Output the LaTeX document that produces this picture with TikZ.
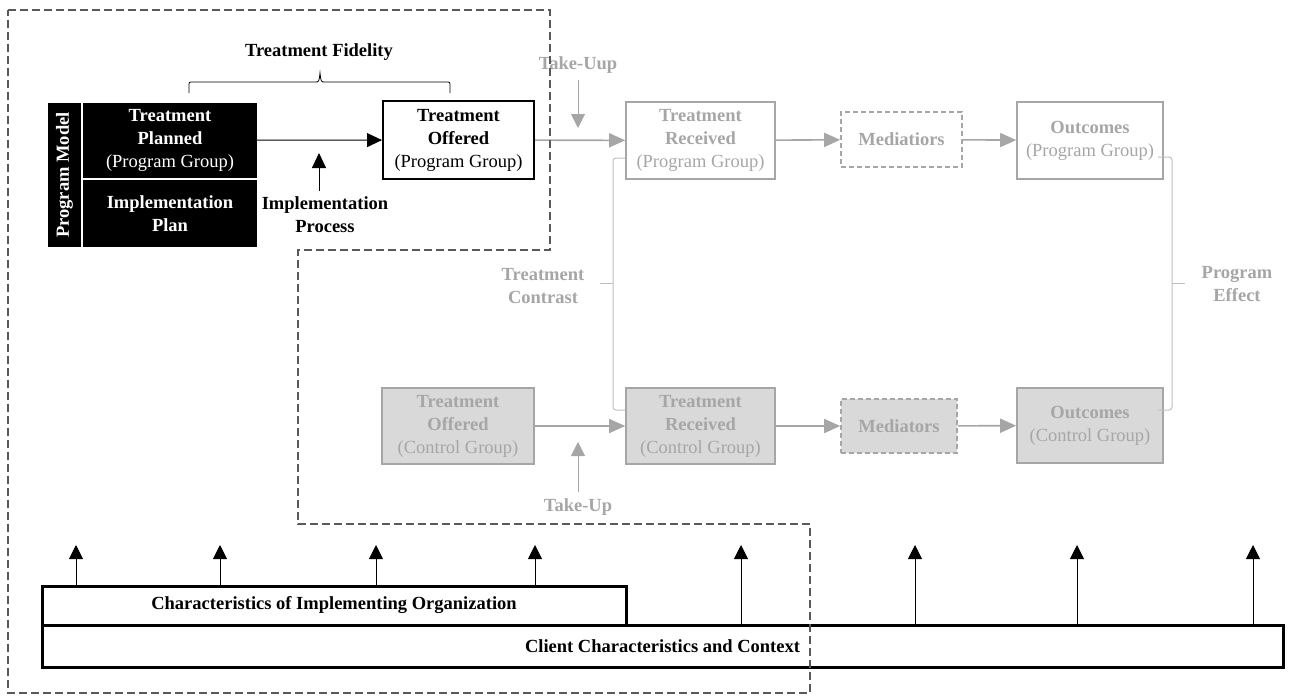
\documentclass[tikz,border=0pt]{standalone}
\usepackage{fontspec}
\setmainfont{Liberation Serif}
\usepackage{tikz}
\usetikzlibrary{arrows.meta,calc}
\definecolor{faded}{HTML}{A6A6A6}
\definecolor{ctrlfill}{HTML}{D9D9D9}
\definecolor{bracketgray}{HTML}{BFBFBF}
\tikzset{every picture/.append style={x=1pt,y=-1pt}}
\tikzset{model/.style={fill=black,text=white,inner sep=0pt,align=center}}
\tikzset{offer/.style={draw=black,line width=2pt,inner sep=0pt,align=center,minimum width=151pt,minimum height=78pt}}
\tikzset{fadedbox/.style={draw=faded,line width=1.6pt,text=faded,inner sep=0pt,align=center,minimum width=149pt,minimum height=77pt}}
\tikzset{ctrlbox/.style={fadedbox,fill=ctrlfill}}
\tikzset{medbox/.style={fadedbox,dash pattern=on 5pt off 3pt,minimum width=121pt,minimum height=55pt,font=\bfseries}}
\tikzset{flow/.style={-{Triangle[length=16pt,width=14pt]},line width=1.6pt,draw=faded,fill=faded}}
\tikzset{takeup/.style={-{Triangle[length=14pt,width=14pt]},line width=1pt,draw=faded,fill=faded}}
\tikzset{impl/.style={-{Triangle[length=15pt,width=14pt]},line width=0.9pt}}
\tikzset{up/.style={-{Triangle[length=14pt,width=14pt]},line width=0.9pt}}
\tikzset{lbl/.style={align=center,font=\bfseries}}
\tikzset{fadedlbl/.style={lbl,text=faded}}
\tikzset{bracket/.style={draw=bracketgray,line width=1pt}}
\tikzset{context/.style={draw,line width=3pt,inner sep=0pt,font=\bfseries}}
\tikzset{outline/.style={draw=black!65,line width=1.2pt,dash pattern=on 8pt off 4pt}}

\begin{document}
\fontsize{18.5}{23}\selectfont
\begin{tikzpicture}
\useasboundingbox (0,0) rectangle (1289,696);

% program model
\node (pm) at (64.5,175)[model,rotate=90,minimum width=144pt,minimum height=33pt,font=\bfseries]{Program Model};
\node (planned) at (170,140.25)[model,minimum width=174pt,minimum height=74.5pt]{\textbf{Treatment}\\\textbf{Planned}\\(Program Group)};
\node (implan) at (170,213.25)[model,minimum width=174pt,minimum height=67.5pt,font=\bfseries]{Implementation\\Plan};

\node (offered) at (458.5,140)[offer]{\textbf{Treatment}\\\textbf{Offered}\\(Program Group)};
\draw[impl] (planned) -- (offered);

\node (implproc) at (325,215)[lbl]{Implementation\\Process};
\coordinate (ip) at (319,153);
\draw[impl] (implproc.north -| ip) -- (ip);

\node (fidelity) at (319,52)[lbl]{Treatment Fidelity};
\draw[line width=0.8pt] (189,93) -- (189,86) .. controls (189,82) .. (193,82) -- (315,82) .. controls (319,82) .. (320,73) .. controls (321,82) .. (325,82) -- (446,82) .. controls (450,82) .. (450,86) -- (450,93);

% program group
\node (recv) at (700.5,140.5)[fadedbox]{\textbf{Treatment}\\\textbf{Received}\\(Program Group)};
\node (med) at (901.5,139.5)[medbox]{Mediatiors};
\node (outc) at (1090,140.5)[fadedbox,minimum width=146pt]{\textbf{Outcomes}\\(Program Group)};
\draw[flow] (offered) -- (recv);
\draw[flow] (recv) -- (med);
\draw[flow] (med) -- (outc);

\node (takeup1) at (578,65)[fadedlbl]{Take-Uup};
\coordinate (tu1) at (578,128);
\draw[takeup] (takeup1.south) -- (tu1);

% control group
\node (coff) at (458,426)[ctrlbox,minimum width=152pt,minimum height=76pt]{\textbf{Treatment}\\\textbf{Offered}\\(Control Group)};
\node (crecv) at (700.5,426)[ctrlbox,minimum height=76pt]{\textbf{Treatment}\\\textbf{Received}\\(Control Group)};
\node (cmed) at (899,426)[medbox,fill=ctrlfill,minimum width=116pt,minimum height=54pt]{Mediators};
\node (coutc) at (1090,425.5)[ctrlbox,minimum width=146pt,minimum height=75pt]{\textbf{Outcomes}\\(Control Group)};
\draw[flow] (coff) -- (crecv);
\draw[flow] (crecv) -- (cmed);
\draw[flow] (cmed) -- (coutc);

\node (takeup2) at (578,507)[fadedlbl]{Take-Up};
\coordinate (tu2) at (578,442);
\draw[takeup] (takeup2.north) -- (tu2);

% brackets
\node (contrast) at (543,286)[fadedlbl]{Treatment\\Contrast};
\draw[bracket,rounded corners=3pt] (625,158) -- (613,158) -- (613,410) -- (625,410);
\draw[bracket] (613,283) -- (600,283);
\node (effect) at (1237,284)[fadedlbl]{Program\\Effect};
\draw[bracket,rounded corners=3pt] (1158,157) -- (1172,157) -- (1172,410) -- (1158,410);
\draw[bracket] (1172,283) -- (1185,283);

% context
\node (client) at (662.5,646)[context,minimum width=1241pt,minimum height=42pt]{Client Characteristics and Context};
\node (org) at (334,605.5)[context,minimum width=584pt,minimum height=39pt]{Characteristics of Implementing Organization};
\foreach \x [count=\i] in {76,220,376,535} {
  \coordinate (o\i) at (\x,545);
  \draw[up] (o\i |- org.north) -- (o\i);
}
\foreach \x [count=\i] in {741,915,1077,1253} {
  \coordinate (c\i) at (\x,545);
  \draw[up] (c\i |- client.north) -- (c\i);
}

\draw[outline] (8,10) -- (550,10) -- (550,250) -- (298,250) -- (298,524) -- (810,524) -- (810,693) -- (8,693) -- cycle;
\end{tikzpicture}
\end{document}
